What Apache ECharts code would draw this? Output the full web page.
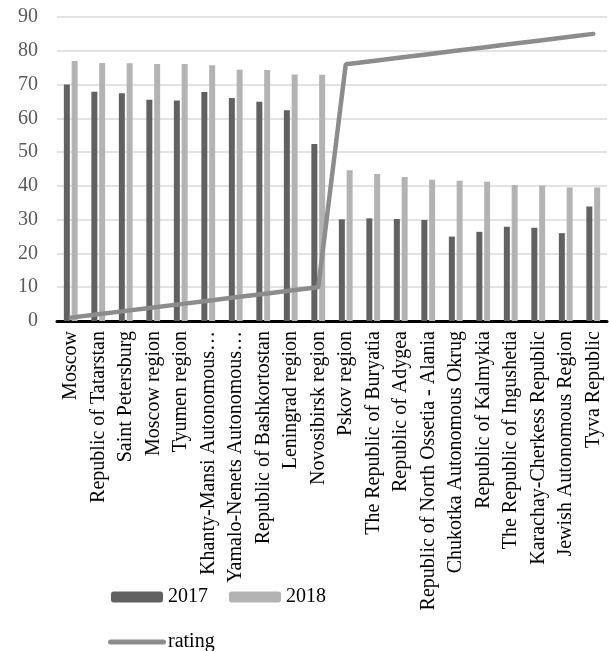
<!DOCTYPE html>
<html><head><meta charset="utf-8">
<script src="https://cdn.jsdelivr.net/npm/echarts@6/dist/echarts.min.js"></script>
<style>html,body{margin:0;padding:0;background:#fff}#c{width:609px;height:651px}</style>
</head><body><div id="c"></div>
<script>
const categories = ["Moscow","Republic of Tatarstan","Saint Petersburg","Moscow region","Tyumen region","Khanty-Mansi Autonomous…","Yamalo-Nenets Autonomous…","Republic of Bashkortostan","Leningrad region","Novosibirsk region","Pskov region","The Republic of Buryatia","Republic of Adygea","Republic of North Ossetia - Alania","Chukotka Autonomous Okrug","Republic of Kalmykia","The Republic of Ingushetia","Karachay-Cherkess Republic","Jewish Autonomous Region","Tyva Republic"];
const values2017 = [70.0,67.9,67.4,65.5,65.3,67.8,66.0,64.9,62.4,52.4,30.1,30.4,30.2,29.9,25.0,26.4,27.9,27.6,26.0,33.9];
const values2018 = [77.0,76.4,76.3,76.1,76.1,75.7,74.4,74.3,73.0,72.9,44.6,43.5,42.6,41.8,41.5,41.2,40.3,40.1,39.5,39.5];
const rating = [1,2,3,4,5,6,7,8,9,10,76,77,78,79,80,81,82,83,84,85];
const yTicks = [0,10,20,30,40,50,60,70,80,90];

const font = "'Liberation Serif','Times New Roman',serif";
const chart = echarts.init(document.getElementById('c'));
chart.setOption({
  animation:false,
  textStyle:{fontFamily:font},
  grid:{left:57,right:2,top:17,bottom:330,containLabel:false},
  legend:[
    {data:['2017','2018'],left:106,top:582,itemWidth:52,itemHeight:11,itemGap:21,
     textStyle:{fontFamily:font,fontSize:20,color:'#000'}},
    {data:[{name:'rating',icon:'path://M2.5,0 L55.5,0 A2.5,2.5 0 0 1 55.5,5 L2.5,5 A2.5,2.5 0 0 1 2.5,0 Z'}],
     left:103,top:627,itemWidth:58,itemHeight:5,
     itemStyle:{color:'#8c8c8c'},
     textStyle:{fontFamily:font,fontSize:20,color:'#000',padding:[0,0,0,-3]}}
  ],
  xAxis:{type:'category',data:categories,
    axisLine:{lineStyle:{color:'#000',width:3}},axisTick:{show:false},
    axisLabel:{rotate:90,interval:0,margin:10,fontFamily:font,fontSize:20,color:'#000'}},
  yAxis:{type:'value',min:yTicks[0],max:yTicks[yTicks.length-1],interval:10,
    axisLine:{show:false},axisTick:{show:false},
    splitLine:{lineStyle:{color:'#d9d9d9',width:1.5}},
    axisLabel:{margin:19,fontFamily:font,fontSize:20,color:'#595959'}},
  series:[
    {name:'2017',type:'bar',data:values2017,barWidth:6,barGap:'30%',itemStyle:{color:'#616161'}},
    {name:'2018',type:'bar',data:values2018,barWidth:6,itemStyle:{color:'#b3b3b3'}},
    {name:'rating',type:'line',data:rating,symbol:'none',z:5,
     lineStyle:{color:'#8c8c8c',width:4.5,cap:'round'},itemStyle:{color:'#8c8c8c'}}
  ]
});
</script></body></html>
